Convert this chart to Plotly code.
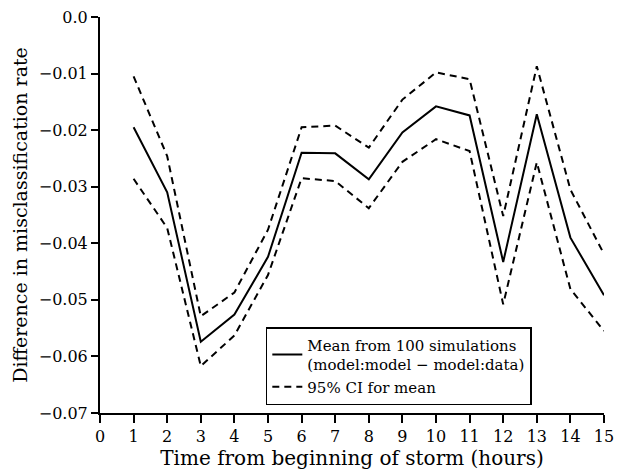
import plotly.graph_objects as go

hours = list(range(1, 16))
mean_diff = [-0.0195, -0.0310, -0.0574, -0.0526, -0.0424, -0.0240, -0.0241, -0.0287,
             -0.0204, -0.0158, -0.0174, -0.0433, -0.0172, -0.0390, -0.0492]
upper_ci = [-0.0105, -0.0246, -0.0529, -0.0487, -0.0376, -0.0195, -0.0192, -0.0231,
            -0.0146, -0.0098, -0.0110, -0.0352, -0.0087, -0.0305, -0.0419]
lower_ci = [-0.0286, -0.0373, -0.0617, -0.0563, -0.0456, -0.0285, -0.0290, -0.0338,
            -0.0256, -0.0216, -0.0237, -0.0508, -0.0257, -0.0481, -0.0555]

x_ticks = list(range(0, 16))
y_ticks = [0.0, -0.01, -0.02, -0.03, -0.04, -0.05, -0.06, -0.07]
y_tick_text = ["0.0", "\u22120.01", "\u22120.02", "\u22120.03", "\u22120.04",
               "\u22120.05", "\u22120.06", "\u22120.07"]

FONT = "DejaVu Serif"

fig = go.Figure()
fig.add_trace(go.Scatter(
    x=hours, y=mean_diff, mode="lines",
    line=dict(color="black", width=2),
    name="Mean from 100 simulations<br>(model:model \u2212 model:data)",
))
fig.add_trace(go.Scatter(
    x=hours, y=upper_ci, mode="lines",
    line=dict(color="black", width=2, dash="7px,5px"),
    name="95% CI for mean", legendgroup="ci",
))
fig.add_trace(go.Scatter(
    x=hours, y=lower_ci, mode="lines",
    line=dict(color="black", width=2, dash="7px,5px"),
    name="95% CI for mean", legendgroup="ci", showlegend=False,
))

fig.update_layout(
    width=619, height=473,
    margin=dict(l=100, r=15, t=17, b=60),
    paper_bgcolor="white", plot_bgcolor="white",
    font=dict(family=FONT, size=16, color="black"),
    showlegend=True,
    legend=dict(
        x=0.329, y=0.217, xanchor="left", yanchor="top",
        bordercolor="black", borderwidth=1.5, bgcolor="white",
        font=dict(family=FONT, size=15, color="black"),
        tracegroupgap=0, itemwidth=30,
    ),
    xaxis=dict(
        range=[0, 15], tickmode="array", tickvals=x_ticks,
        ticks="outside", ticklen=8, tickwidth=2, tickcolor="black",
        showline=True, linecolor="black", linewidth=2,
        showgrid=False, zeroline=False, automargin=False,
        title=dict(text="Time from beginning of storm (hours)", standoff=4,
                   font=dict(family=FONT, size=20)),
        tickfont=dict(family=FONT, size=16),
    ),
    yaxis=dict(
        range=[-0.07, 0], tickmode="array", tickvals=y_ticks, ticktext=y_tick_text,
        ticks="outside", ticklen=7, tickwidth=2, tickcolor="black",
        showline=True, linecolor="black", linewidth=2,
        showgrid=False, zeroline=False, automargin=False,
        title=dict(text="Difference in misclassification rate", standoff=6,
                   font=dict(family=FONT, size=19)),
        tickfont=dict(family=FONT, size=16),
    ),
)

fig.write_html("out.html", config={"displayModeBar": False},
               post_script="document.body.style.margin='0px';")
